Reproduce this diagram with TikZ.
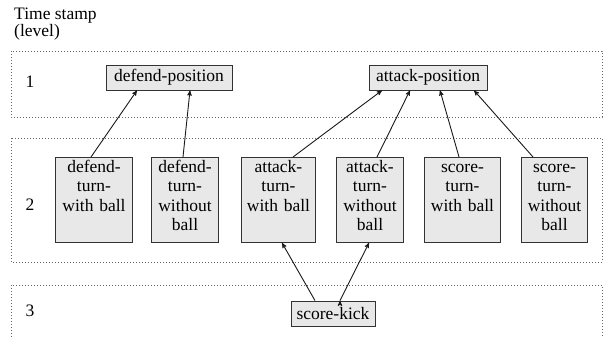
\documentclass[tikz,border=0pt]{standalone}
\usepackage{fontspec}
\setmainfont{Liberation Serif}
\usetikzlibrary{arrows}
\tikzset{
>=stealth', % filled arrow heads
level/.style={draw=black!60, line width=0.6pt, dash pattern=on 0.8pt off 2.2pt}, % dotted time stamp bands
action/.style={draw=black!80, fill=black!9, line width=0.8pt, minimum height=25pt, inner xsep=5pt, inner ysep=0pt}, % one-line boxes
turn/.style={action, anchor=north, text width=#1, align=center, inner xsep=3pt, inner ysep=3pt, text height=12pt, text depth=67pt}, % level 2 boxes, text from the top
}

\begin{document}
\begin{tikzpicture}[x=1pt, y=-1pt, font=\fontsize{17.5}{19.5}\selectfont]
    \useasboundingbox (0,0) rectangle (603,337);
    \draw[level] (11,51) rectangle (602,117);
    \draw[level] (11,138) rectangle (602,262);
    \draw[level] (11,337) -- (11,285) -- (602,285) -- (602,337);
    \node[anchor=north west, align=left, inner sep=0pt, font=\fontsize{17.5}{16.5}\selectfont] (ts) at (14,8) {Time stamp\\(level)};
    \node (l1) at (30,82) {1};
    \node (l2) at (30,205) {2};
    \node (l3) at (30,311) {3};
    \node[action, minimum width=126pt] (dp) at (169,77.5) {defend-position};
    \node[action, minimum width=118pt] (ap) at (428,77.5) {attack-position};
    \node[turn=71pt] (dtw) at (94,157) {defend-\\turn-\\with ball};
    \node[turn=61pt] (dtwo) at (185,157) {defend-\\turn-\\without\\ball};
    \node[turn=68pt] (atw) at (278.5,157) {attack-\\turn-\\with ball};
    \node[turn=61pt] (atwo) at (370,157) {attack-\\turn-\\without\\ball};
    \node[turn=70pt] (stw) at (462.5,157) {score-\\turn-\\with ball};
    \node[turn=60pt] (stwo) at (554.5,157) {score-\\turn-\\without\\ball};
    \node[action, minimum width=84pt] (sk) at (333,313.5) {score-kick};
    \draw[->, black!90, line width=0.9pt]
    ([xshift=-3pt]dtw.north) edge ([xshift=-32pt]dp.south)
    ([xshift=-2pt]dtwo.north) edge ([xshift=21pt]dp.south)
    ([xshift=14.5pt]atw.north) edge ([xshift=-46pt]ap.south)
    ([xshift=7pt]atwo.north) edge ([xshift=-18pt]ap.south)
    ([xshift=-3.5pt]stw.north) edge ([xshift=12pt]ap.south)
    ([xshift=-21.5pt]stwo.north) edge ([xshift=46pt]ap.south)
    ([xshift=-18pt]sk.north) edge ([xshift=3.5pt]atw.south)
    ([xshift=7pt]sk.north) edge ([xshift=-1pt]atwo.south);
\end{tikzpicture}
\end{document}
